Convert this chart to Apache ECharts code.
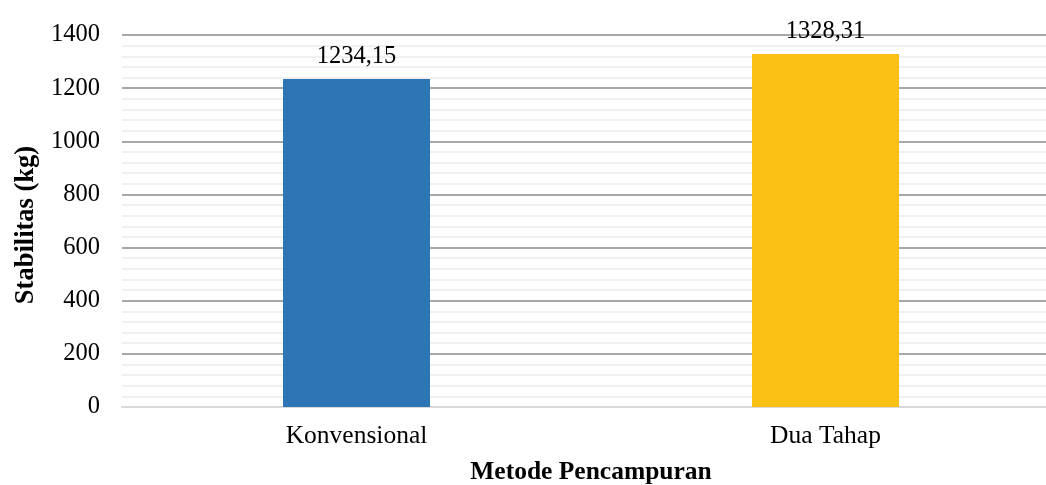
<!DOCTYPE html>
<html>
<head>
<meta charset="utf-8">
<script src="https://cdn.jsdelivr.net/npm/echarts@6/dist/echarts.min.js"></script>
<style>
  html, body { margin: 0; padding: 0; background: #ffffff; }
  #chart { width: 1046px; height: 485px; }
</style>
</head>
<body>
<div id="chart"></div>
<script>
// Stabilitas per metode pencampuran
var categories = ['Konvensional', 'Dua Tahap'];
var stabilitas = [1234.15, 1328.31];
var barColors = ['#2E75B6', '#FBC014'];
var yTicks = { min: 0, max: 1400, interval: 200 };

var serif = "'Liberation Serif', 'Times New Roman', serif";

function formatComma(v) {
  return v.toFixed(2).replace('.', ',');
}

var chart = echarts.init(document.getElementById('chart'), null, { renderer: 'canvas' });

chart.setOption({
  animation: false,
  backgroundColor: '#ffffff',
  grid: {
    left: 122,
    top: 35,
    width: 938,
    height: 372,
    containLabel: false,
    outerBoundsMode: 'none'
  },
  xAxis: {
    type: 'category',
    data: categories,
    name: 'Metode Pencampuran',
    nameLocation: 'middle',
    nameGap: 52,
    nameTextStyle: { fontFamily: serif, fontWeight: 'bold', fontSize: 25.5, color: '#000000' },
    axisLine: { show: true, lineStyle: { color: '#d9d9d9', width: 2 } },
    axisTick: { show: false },
    axisLabel: { fontFamily: serif, fontSize: 25.5, color: '#000000', margin: 16 }
  },
  yAxis: {
    type: 'value',
    min: yTicks.min,
    max: yTicks.max,
    interval: yTicks.interval,
    name: 'Stabilitas (kg)',
    nameLocation: 'middle',
    nameGap: 82,
    nameRotate: 90,
    nameTextStyle: {
      fontFamily: serif, fontWeight: 'bold', fontSize: 26.5, color: '#000000',
      padding: [0, 8, 0, 0]
    },
    axisLine: { show: false },
    axisTick: { show: false },
    axisLabel: {
      fontFamily: serif, fontSize: 24.5, color: '#000000', margin: 22,
      formatter: function (v) { return String(v); }
    },
    splitLine: { show: true, lineStyle: { color: '#a8a8a8', width: 2 } },
    minorTick: { show: false, splitNumber: 5 },
    minorSplitLine: { show: true, lineStyle: { color: '#f0f0f0', width: 2 } }
  },
  series: [{
    type: 'bar',
    data: stabilitas.map(function (v, i) {
      return { value: v, itemStyle: { color: barColors[i] } };
    }),
    barWidth: 147,
    label: {
      show: true,
      position: 'top',
      distance: 10,
      fontFamily: serif,
      fontSize: 24.5,
      color: '#000000',
      formatter: function (p) { return formatComma(p.value); }
    }
  }]
});
</script>
</body>
</html>
